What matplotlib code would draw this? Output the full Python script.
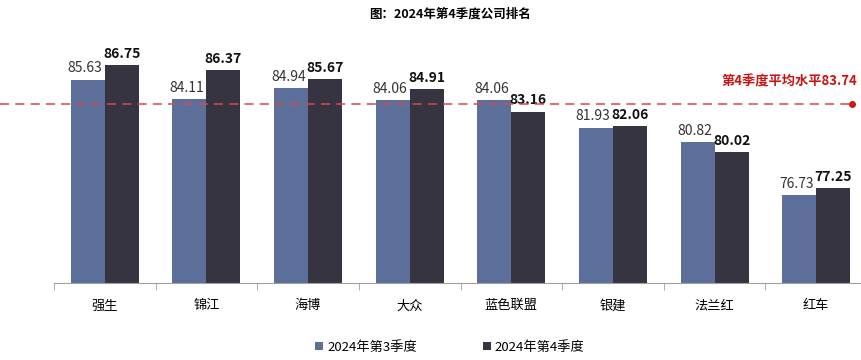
import numpy as np
import matplotlib.pyplot as plt
from matplotlib.transforms import blended_transform_factory

companies = ['强生', '锦江', '海博', '大众', '蓝色联盟', '银建', '法兰红', '红车']
q3_scores = [85.63, 84.11, 84.94, 84.06, 84.06, 81.93, 80.82, 76.73]
q4_scores = [86.75, 86.37, 85.67, 84.91, 83.16, 82.06, 80.02, 77.25]
q4_average = 83.74
series_names = ['2024年第3季度', '2024年第4季度']

plt.rcParams['font.family'] = ['Noto Sans CJK SC', 'DejaVu Sans']

fig = plt.figure(figsize=(8.61, 3.6), dpi=100)
ax = fig.add_axes([54 / 861, 77.3 / 360, 813 / 861, 242.7 / 360])

x = np.arange(len(companies))
w = 0.335
b3 = ax.bar(x - w / 2, q3_scores, w, color='#5B6F9A', label=series_names[0])
b4 = ax.bar(x + w / 2, q4_scores, w, color='#363441', label=series_names[1])

for xi, v in zip(x, q3_scores):
    ax.annotate(f'{v:.2f}', (xi - w / 2, v), textcoords='offset points',
                xytext=(-2, 3), ha='center', va='bottom', fontsize=10, color='#333333')
for xi, v in zip(x, q4_scores):
    ax.annotate(f'{v:.2f}', (xi + w / 2, v), textcoords='offset points',
                xytext=(0, 3), ha='center', va='bottom', fontsize=10,
                fontweight='bold', color='#111111')

ax.set_xlim(-0.5, len(companies) - 0.5)
ax.set_ylim(70, 88.67)

# average line runs across the whole figure
tr = blended_transform_factory(fig.transFigure, ax.transData)
ax.plot([0, 852 / 861], [q4_average, q4_average], transform=tr, clip_on=False,
        color='#D9474F', lw=1.1, dashes=(6, 4), zorder=3)
ax.plot([852 / 861], [q4_average], 'o', transform=tr, clip_on=False,
        color='#D01818', ms=4, zorder=4)
ax.annotate(f'第4季度平均水平{q4_average:.2f}', (857 / 861, q4_average), xycoords=tr,
            textcoords='offset points', xytext=(0, 11), annotation_clip=False,
            ha='right', va='bottom', fontsize=9.5, fontweight='bold', color='#CC1111')

ax.set_xticks(x)
ax.set_xticklabels(companies, fontsize=9.5)
ax.set_xticks(np.arange(-0.5, len(companies)), minor=True)
ax.tick_params(axis='x', which='major', length=0, pad=12)
ax.tick_params(axis='x', which='minor', length=5, color='#A0A0A0')
ax.set_yticks([])
for s in ['left', 'right', 'top']:
    ax.spines[s].set_visible(False)
ax.spines['bottom'].set_color('#A0A0A0')

fig.text(450 / 861, 1 - 14 / 360, '图：2024年第4季度公司排名', ha='center', va='center',
         fontsize=9, fontweight='bold')

fig.legend(handles=[b3, b4], loc='center', bbox_to_anchor=(450 / 861, 13 / 360),
           ncol=2, frameon=False, fontsize=9.5, handlelength=0.6, handleheight=0.6,
           handletextpad=0.3, columnspacing=5)

fig.savefig('out.png', dpi=100)
